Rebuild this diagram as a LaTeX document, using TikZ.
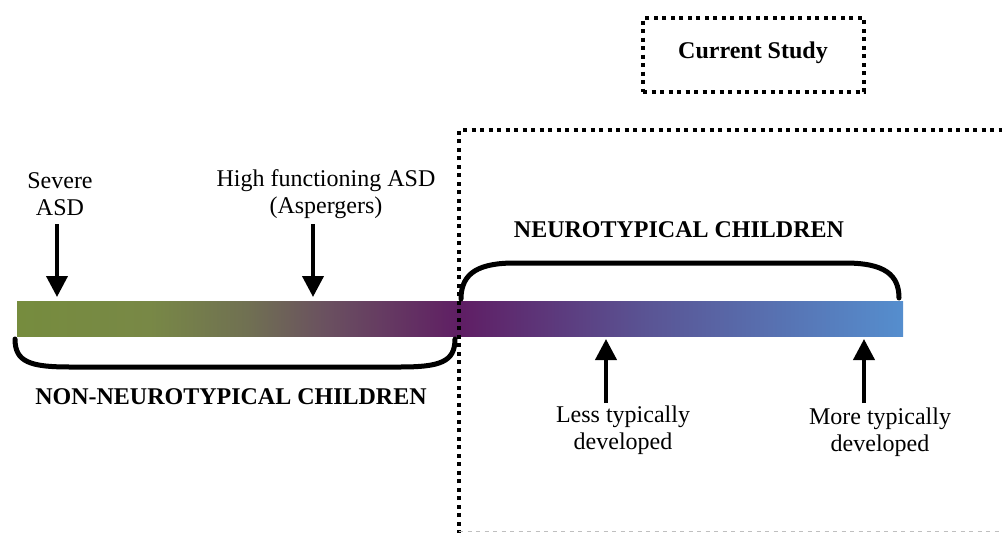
\documentclass[tikz,border=0pt]{standalone}
\usepackage{fontspec}
\setmainfont{Liberation Serif}
\usetikzlibrary{arrows.meta}
\definecolor{barA}{RGB}{118,140,62}
\definecolor{barB}{RGB}{120,136,70}
\definecolor{barC}{RGB}{112,112,82}
\definecolor{barD}{RGB}{106,80,96}
\definecolor{barE}{RGB}{95,30,100}
\definecolor{barF}{RGB}{90,84,148}
\definecolor{barG}{RGB}{85,142,206}
% colour stops spread over the middle half of the 100bp shading
\pgfdeclarehorizontalshading{spectrum}{100bp}{%
  color(0bp)=(barA); color(25bp)=(barA); color(32.5bp)=(barB);
  color(38bp)=(barC); color(42.5bp)=(barD); color(50bp)=(barE);
  color(60.5bp)=(barF); color(75bp)=(barG); color(100bp)=(barG)}
\tikzset{
  lbl/.style={align=center,font=\fontsize{24}{27}\selectfont,inner sep=0pt},
  grp/.style={font=\fontsize{24}{27}\selectfont\bfseries,inner sep=0pt},
  pointer/.style={line width=4pt,-{Triangle[width=21pt,length=21pt]}},
  brace/.style={line width=5pt,line cap=round},
  dotline/.style={line width=4pt,dash pattern=on 4pt off 4.5pt},
}
\begin{document}
\begin{tikzpicture}[x=1pt,y=-1pt]
\useasboundingbox (0,0) rectangle (1002,533);
\clip (0,0) rectangle (1002,533);

% spectrum bar: olive -> purple -> blue
\node[inner sep=0pt,minimum width=886pt,minimum height=35pt,shading=spectrum] (bar) at (460,318.5) {};

% study region
\draw[dotline] (459,534) -- (459,130) -- (1010,130);
\draw[dotline,gray!50,line width=1.5pt] (459,531.5) -- (1010,531.5);
\node[draw,dotline,minimum width=221pt,minimum height=74pt] (study) at (753.5,55) {};
\node[grp] (studylbl) at (753,53) {Current Study};

% labels above the bar
\node[lbl] (severe) at (60,194) {Severe\\ASD};
\node[lbl] (hfa) at (326,194) {High functioning ASD\\(Aspergers)};
\coordinate (severeTip) at (57,297);
\coordinate (hfaTip) at (313,297);
\draw[pointer] (57,224) -- (severeTip);
\draw[pointer] (313,224) -- (hfaTip);

% labels below the bar
\node[lbl] (less) at (623,430) {Less typically\\developed};
\node[lbl] (more) at (880,432) {More typically\\developed};
\coordinate (lessTip) at (606,339);
\coordinate (moreTip) at (864,339);
\draw[pointer] (606,403) -- (lessTip);
\draw[pointer] (864,403) -- (moreTip);

% group braces
\draw[brace] (15,339) .. controls (15,362) and (30,367) .. (70,367) -- (400,367)
  .. controls (440,367) and (455,362) .. (455,339);
\draw[brace] (461,299) .. controls (461,272) and (480,263) .. (515,263) -- (845,263)
  .. controls (885,263) and (899,275) .. (899,298);
\node[grp] (nonnt) at (231,397) {NON-NEUROTYPICAL CHILDREN};
\node[grp] (nt) at (679,230) {NEUROTYPICAL CHILDREN};
\end{tikzpicture}
\end{document}
